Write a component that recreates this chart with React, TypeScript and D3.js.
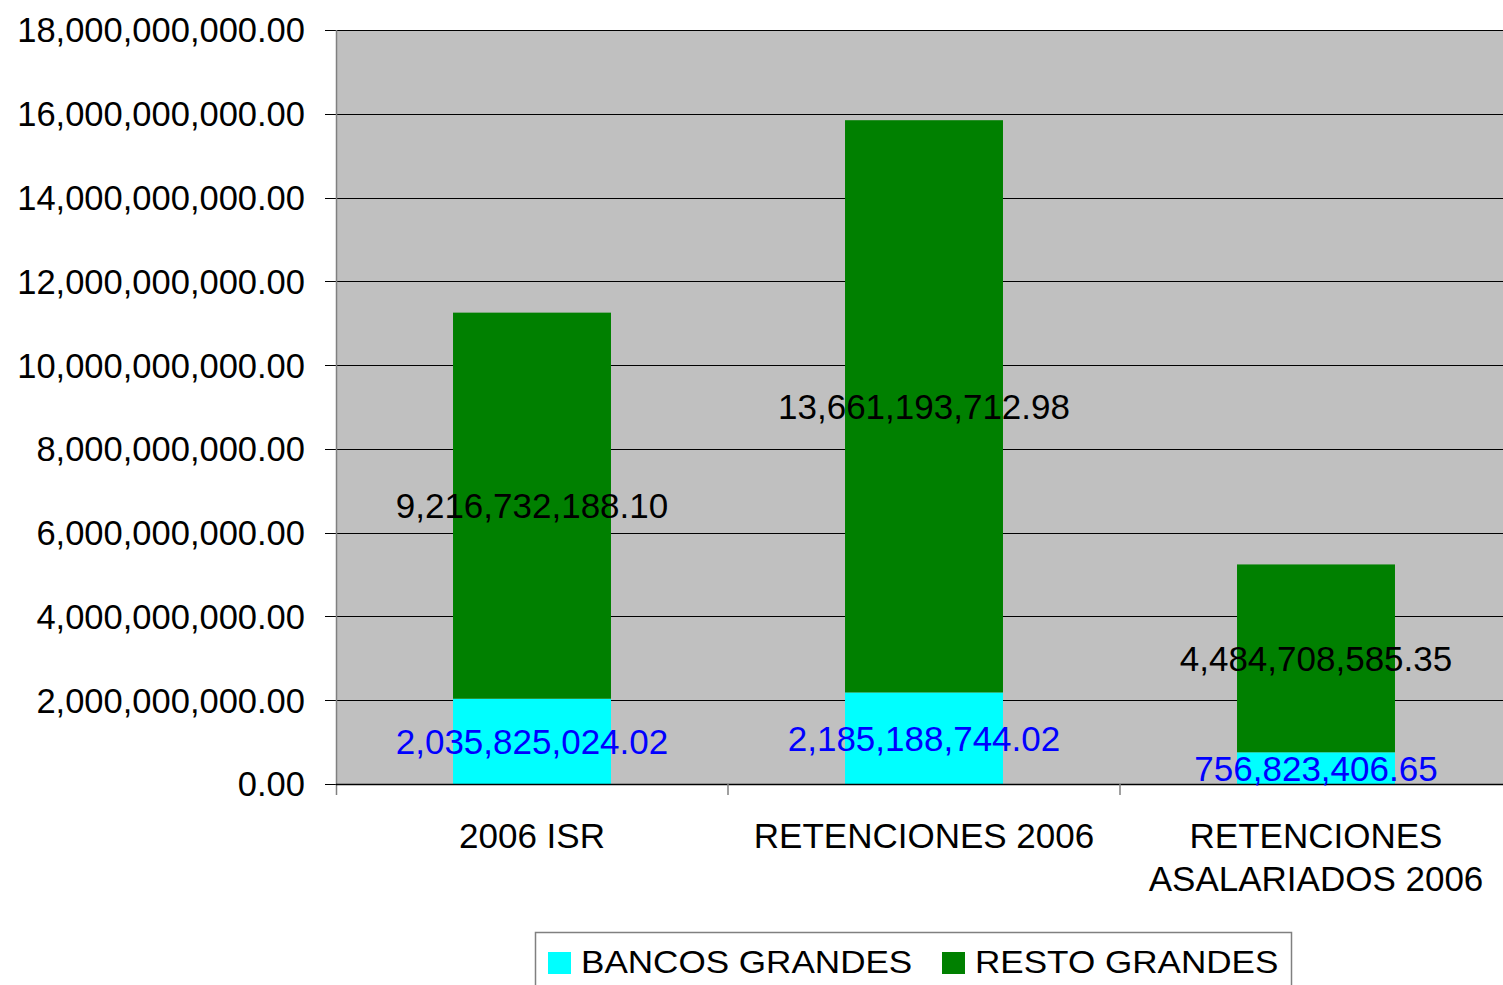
import React from 'react'
import * as d3 from 'd3'

// values
const categories = ['2006 ISR', 'RETENCIONES 2006', 'RETENCIONES ASALARIADOS 2006']
const categoryLines = [['2006 ISR'], ['RETENCIONES 2006'], ['RETENCIONES', 'ASALARIADOS 2006']]
const bancosGrandes = [2035825024.02, 2185188744.02, 756823406.65]
const restoGrandes = [9216732188.1, 13661193712.98, 4484708585.35]
const seriesNames = ['BANCOS GRANDES', 'RESTO GRANDES']
const seriesColors = ['#00FFFF', '#008000']
const labelColors = ['#0000FF', '#000000']
const yTicks = [0, 2e9, 4e9, 6e9, 8e9, 10e9, 12e9, 14e9, 16e9, 18e9]

const W = 1503
const H = 985
const FONT = '"Liberation Sans", Arial, sans-serif'

const fmt = d3.format(',.2f')

function App() {
  const left = 336, top = 30, bottom = 784, right = 1512

  const x = d3.scaleBand<string>().domain(categories).range([left, right])
    .paddingInner(0.597).paddingOuter(0.2985)
  const y = d3.scaleLinear().domain([0, 18e9]).range([bottom, top])

  const rows = categories.map((c, i) => ({ cat: c, bancos: bancosGrandes[i], resto: restoGrandes[i] }))
  const stacked = d3.stack<any>().keys(['bancos', 'resto'])(rows)
  const step = x.step()

  return (
    <svg width={W} height={H} style={{ position: 'absolute', left: 0, top: 0, background: '#fff' }} fontFamily={FONT}>
      <rect x={left} y={top} width={right - left} height={bottom - top} fill="#C0C0C0" />
      {/* grid */}
      {yTicks.map(t => (
        <line key={t} x1={left - 11} x2={right} y1={Math.round(y(t)) + 0.5} y2={Math.round(y(t)) + 0.5} stroke="#000" strokeWidth={1} />
      ))}
      {/* bars */}
      {stacked.map((s, si) => (
        <g key={s.key}>
          {s.map((d, i) => (
            <rect key={i} x={x(categories[i])} width={x.bandwidth()}
              y={y(d[1])} height={y(d[0]) - y(d[1])} fill={seriesColors[si]} />
          ))}
        </g>
      ))}
      {/* axes */}
      <line x1={left + 0.5} x2={left + 0.5} y1={top} y2={bottom + 11} stroke="#808080" strokeWidth={1.5} />
      <line x1={left} x2={right} y1={bottom + 0.5} y2={bottom + 0.5} stroke="#000" strokeWidth={1.5} />
      {categories.map((c, i) => (
        <line key={c} x1={left + step * (i + 1)} x2={left + step * (i + 1)} y1={bottom} y2={bottom + 11} stroke="#808080" strokeWidth={1.5} />
      ))}
      {yTicks.map(t => (
        <text key={t} x={305} y={y(t)} dy="0.36em" textAnchor="end" fontSize={34.5} fill="#000">{fmt(t)}</text>
      ))}
      {/* data labels */}
      {stacked.map((s, si) => (
        <g key={'l' + s.key}>
          {s.map((d, i) => (
            <text key={i} x={x(categories[i])! + x.bandwidth() / 2} y={y((d[0] + d[1]) / 2)} dy="0.36em"
              textAnchor="middle" fontSize={35} fill={labelColors[si]}>{fmt(d[1] - d[0])}</text>
          ))}
        </g>
      ))}
      {/* category labels */}
      {categoryLines.map((lines, i) => (
        <text key={i} x={x(categories[i])! + x.bandwidth() / 2} y={848} textAnchor="middle" fontSize={35} fill="#000">
          {lines.map((l, j) => (
            <tspan key={j} x={x(categories[i])! + x.bandwidth() / 2} dy={j === 0 ? 0 : 43}>{l}</tspan>
          ))}
        </text>
      ))}
      {/* legend */}
      <rect x={535.5} y={932.5} width={756} height={70} fill="#fff" stroke="#808080" strokeWidth={1.5} />
      {seriesNames.map((n, i) => {
        const lx = i === 0 ? 548 : 942
        return (
          <g key={n}>
            <rect x={lx} y={952} width={23} height={22} fill={seriesColors[i]} />
            <g transform={`translate(${lx + 33},973) scale(1.15,1)`}>
              <text x={0} y={0} fontSize={30.5} fill="#000">{n}</text>
            </g>
          </g>
        )
      })}
    </svg>
  )
}

export default App
